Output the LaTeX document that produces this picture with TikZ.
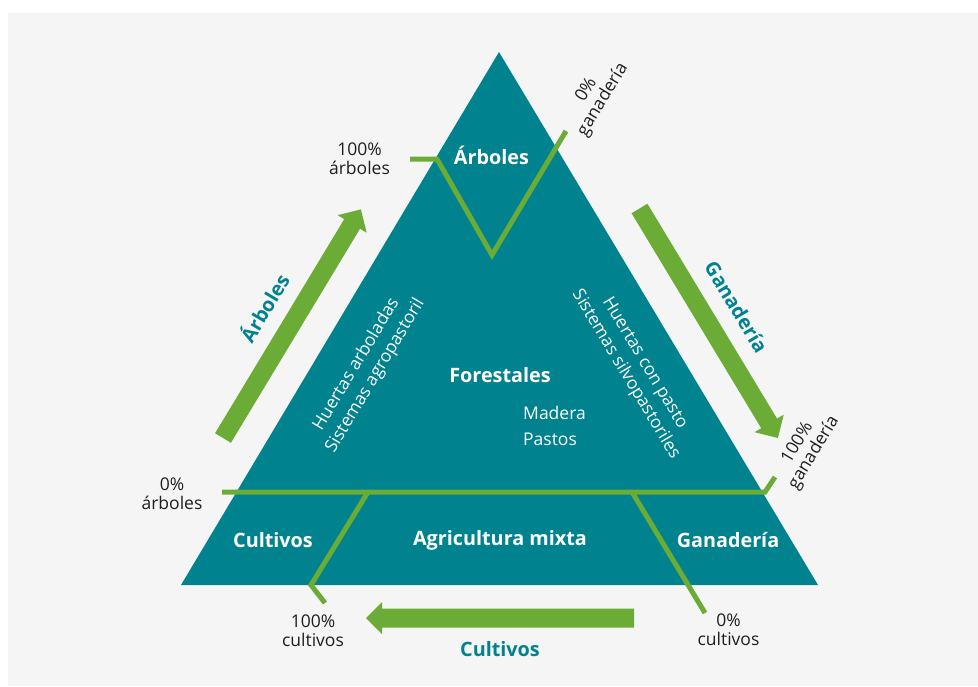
\documentclass[tikz,border=0pt]{standalone}
\usepackage{fontspec}
\setmainfont{Open Sans}
\definecolor{teal1}{RGB}{0,130,143}
\definecolor{green1}{RGB}{106,172,53}
\definecolor{bg}{RGB}{245,245,245}
\definecolor{txt}{RGB}{30,30,30}
\begin{document}
\begin{tikzpicture}[x=1pt,y=-1pt,
 gline/.style={draw=green1,line width=5pt,line join=miter},
 bigarrow/.style={fill=green1,draw=none},
 wlabel/.style={text=white,font=\fontsize{19.8}{23}\selectfont\bfseries,inner sep=0pt},
 wsmall/.style={text=white,font=\fontsize{17.5}{22}\selectfont,inner sep=0pt,align=center},
 blabel/.style={text=txt,font=\fontsize{17.5}{19}\selectfont,inner sep=0pt,align=center},
 tlabel/.style={text=teal1,font=\fontsize{19.8}{23}\selectfont\bfseries,inner sep=0pt},
]
\useasboundingbox (0,0) rectangle (978,686);
\fill[bg] (8,13) rectangle (978,686);
% triangle
\coordinate (apex) at (499,52);
\coordinate (bl) at (181,585);
\coordinate (br) at (818,585);
\fill[teal1] (apex) -- (bl) -- (br) -- cycle;
% green dividing lines
\coordinate (v0) at (410,159);
\coordinate (v1) at (437,159);
\coordinate (v2) at (492,255);
\coordinate (v3) at (566,131);
\draw[gline] (v0) -- (v1) -- (v2) -- (v3);
\coordinate (h0) at (222,492);
\coordinate (h1) at (765,492);
\coordinate (h2) at (775,477);
\draw[gline] (h0) -- (h1) -- (h2);
\coordinate (c0) at (368,492);
\coordinate (c1) at (311,585);
\coordinate (c2) at (325,603);
\draw[gline] (c0) -- (c1) -- (c2);
\coordinate (g0) at (632,492);
\coordinate (g1) at (705,613);
\draw[gline] (g0) -- (g1);
% big arrows
\coordinate (la0) at (223,438);
\coordinate (ra0) at (639.5,208.5);
\coordinate (ba0) at (634,618);
\begin{scope}[shift={(la0)},rotate=58.9]
\fill[bigarrow] (0,-9.25) -- (250,-9.25) -- (250,-17) -- (267,0) -- (250,17) -- (250,9.25) -- (0,9.25) -- cycle;
\end{scope}
\begin{scope}[shift={(ra0)},rotate=-58.9]
\fill[bigarrow] (0,-9.25) -- (251,-9.25) -- (251,-17) -- (268,0) -- (251,17) -- (251,9.25) -- (0,9.25) -- cycle;
\end{scope}
\begin{scope}[shift={(ba0)},rotate=180]
\fill[bigarrow] (0,-9.5) -- (252,-9.5) -- (252,-16) -- (268,0) -- (252,16) -- (252,9.5) -- (0,9.5) -- cycle;
\end{scope}
% texts
\node[wlabel] (tArb) at (491.5,155) {Árboles};
\node[blabel] (l100a) at (359.5,159) {100\%\\árboles};
\node[blabel,rotate=59] (l0g) at (595,95) {0\%\\ganadería};
\node[wlabel] (tFor) at (500,375) {Forestales};
\node[wsmall,anchor=west] (tMad) at (523,412.5) {Madera};
\node[wsmall,anchor=west] (tPas) at (523,439) {Pastos};
\node[wsmall,rotate=59] (tLeft) at (366,370) {Huertas arboladas\\Sistemas agropastoril};
\node[wsmall,rotate=-59] (tRight) at (635,369) {Huertas con pasto\\Sistemas silvopastoriles};
\node[tlabel,rotate=59] (aArb) at (263.5,307.5) {Árboles};
\node[tlabel,rotate=-59] (aGan) at (736.5,307) {Ganadería};
\node[blabel] (l0a) at (172,494) {0\%\\árboles};
\node[wlabel] (tCul) at (273,540) {Cultivos};
\node[wlabel] (tAgr) at (500,540) {Agricultura mixta};
\node[wlabel] (tGan) at (728,540) {Ganadería};
\node[blabel] (l100c) at (313,631) {100\%\\cultivos};
\node[blabel] (l0c) at (728.5,630) {0\%\\cultivos};
\node[blabel,rotate=59] (l100g) at (806,448) {100\%\\ganadería};
\node[tlabel] (aCul) at (500,649) {Cultivos};
\end{tikzpicture}
\end{document}
